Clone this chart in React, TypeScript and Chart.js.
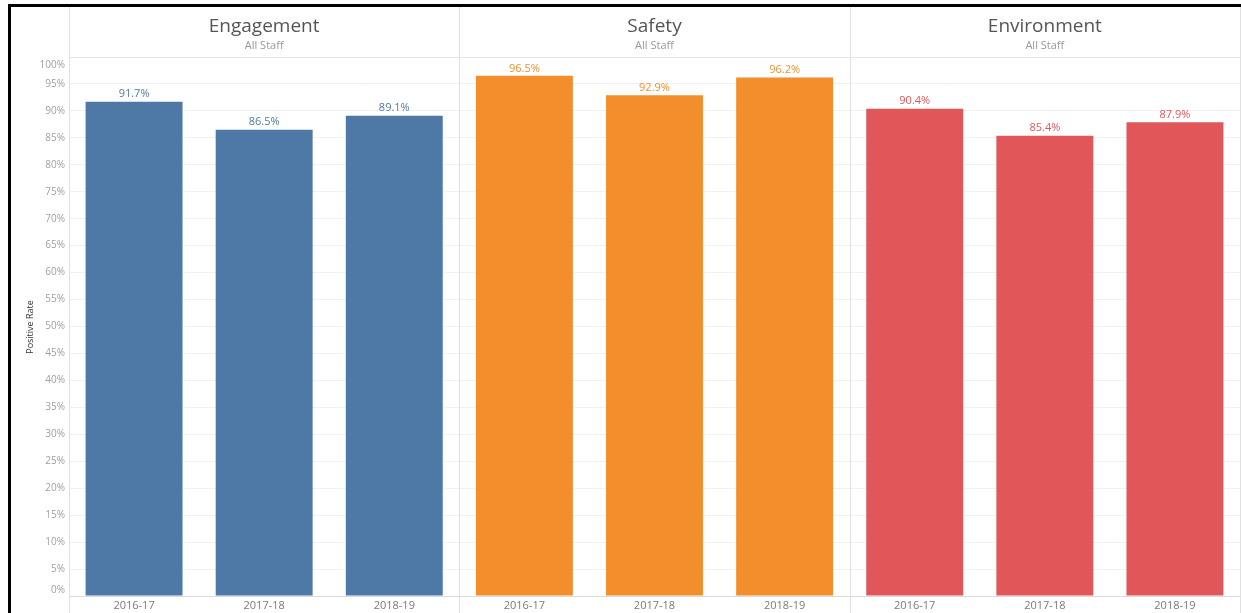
import React, { useEffect, useRef } from "react";
import { Chart, registerables } from "chart.js";
Chart.register(...registerables);

const panels = ["Engagement", "Safety", "Environment"];
const subtitles = ["All Staff", "All Staff", "All Staff"];
const years = ["2016-17", "2017-18", "2018-19"];
const engagement = [91.7, 86.5, 89.1];
const safety = [96.5, 92.9, 96.2];
const environment = [90.4, 85.4, 87.9];
const panelColors = ["#4e79a7", "#f28e2b", "#e15759"];
const yAxisTitle = "Positive Rate";

const FONT = "'Open Sans', 'DejaVu Sans', sans-serif";

export default function App() {
  const ref = useRef<HTMLCanvasElement | null>(null);

  useEffect(() => {
    if (!ref.current) return;
    const series = [engagement, safety, environment];
    const labels: string[] = [];
    const values: number[] = [];
    const colors: string[] = [];
    series.forEach((s, p) => {
      s.forEach((v, i) => {
        labels.push(years[i]);
        values.push(v);
        colors.push(panelColors[p]);
      });
    });

    const decor = {
      id: "decor",
      beforeDraw(chart: any) {
        const ctx = chart.ctx;
        ctx.save();
        ctx.fillStyle = "#ffffff";
        ctx.fillRect(0, 0, chart.width, chart.height);
        ctx.restore();
      },
      afterDatasetsDraw(chart: any) {
        const ctx = chart.ctx;
        const meta = chart.getDatasetMeta(0);
        ctx.save();
        ctx.font = `11px ${FONT}`;
        ctx.textAlign = "center";
        ctx.textBaseline = "bottom";
        meta.data.forEach((bar: any, i: number) => {
          ctx.fillStyle = colors[i];
          ctx.fillText(values[i].toFixed(1) + "%", bar.x, bar.y - 2);
        });
        ctx.restore();
      },
      afterDraw(chart: any) {
        const ctx = chart.ctx;
        const xs = chart.scales.x;
        const ys = chart.scales.y;
        const area = chart.chartArea;
        const n = years.length;
        ctx.save();
        // y tick labels (Tableau keeps end labels inside the axis)
        ctx.font = `10px ${FONT}`;
        ctx.fillStyle = "#a0a0a0";
        ctx.textAlign = "right";
        ctx.textBaseline = "middle";
        ys.ticks.forEach((t: any) => {
          let y = ys.getPixelForValue(t.value);
          if (t.value === ys.max) y += 8;
          if (t.value === ys.min) y -= 6;
          ctx.fillText(t.value + "%", area.left - 4, y);
        });
        // header line
        ctx.strokeStyle = "#e4e4e4";
        ctx.lineWidth = 1;
        ctx.beginPath();
        ctx.moveTo(area.left, area.top + 0.5);
        ctx.lineTo(chart.width, area.top + 0.5);
        ctx.stroke();
        // vertical separators
        const bounds: number[] = [area.left];
        for (let p = 1; p < panels.length; p++) {
          const a = xs.getPixelForValue(p * n - 1);
          const b = xs.getPixelForValue(p * n);
          bounds.push((a + b) / 2);
        }
        bounds.push(chart.width - 1);
        ctx.strokeStyle = "#e0e0e0";
        bounds.forEach((bx) => {
          ctx.beginPath();
          ctx.moveTo(Math.round(bx) + 0.5, 7);
          ctx.lineTo(Math.round(bx) + 0.5, chart.height);
          ctx.stroke();
        });
        // headers
        ctx.textAlign = "center";
        ctx.textBaseline = "middle";
        panels.forEach((name, p) => {
          const cx = (bounds[p] + bounds[p + 1]) / 2;
          ctx.fillStyle = "#555555";
          ctx.font = `19px ${FONT}`;
          ctx.fillText(name, cx, 27);
          ctx.fillStyle = "#999999";
          ctx.font = `11px ${FONT}`;
          ctx.fillText(subtitles[p], cx, 46);
        });
        // y axis title
        ctx.save();
        ctx.translate(30, 327);
        ctx.rotate(-Math.PI / 2);
        ctx.fillStyle = "#333333";
        ctx.font = `9px ${FONT}`;
        ctx.fillText(yAxisTitle, 0, 0);
        ctx.restore();
        // black frame
        ctx.fillStyle = "#000000";
        ctx.fillRect(8, 4, chart.width - 8, 3);
        ctx.fillRect(8, 4, 3, chart.height - 4);
        ctx.restore();
      },
    };

    const chart = new Chart(ref.current, {
      type: "bar",
      data: {
        labels,
        datasets: [
          {
            data: values,
            backgroundColor: colors,
            borderWidth: 0,
            categoryPercentage: 1,
            barPercentage: 0.745,
          },
        ],
      },
      options: {
        animation: false,
        responsive: false,
        layout: { padding: { top: 57, right: 1, left: 0, bottom: 0 } },
        plugins: { legend: { display: false }, tooltip: { enabled: false } },
        scales: {
          x: {
            grid: { display: false, drawTicks: false },
            border: { display: true, color: "#d9d9d9" },
            ticks: { color: "#7a7a7a", font: { family: FONT, size: 11 }, padding: 3, maxRotation: 0 },
            afterFit: (s: any) => {
              s.height = 17;
            },
          },
          y: {
            min: 0,
            max: 100,
            grid: { color: "#f1f1f1", drawTicks: false },
            border: { display: false },
            ticks: {
              stepSize: 5,
              display: false,
              callback: (v: any) => v + "%",
            },
            afterFit: (s: any) => {
              s.width = 69;
            },
          },
        },
      },
      plugins: [decor],
    } as any);
    return () => chart.destroy();
  }, []);

  return (
    <div style={{ position: "absolute", left: 0, top: 0, width: 1241, height: 613 }}>
      <canvas ref={ref} width={1241} height={613} />
    </div>
  );
}
